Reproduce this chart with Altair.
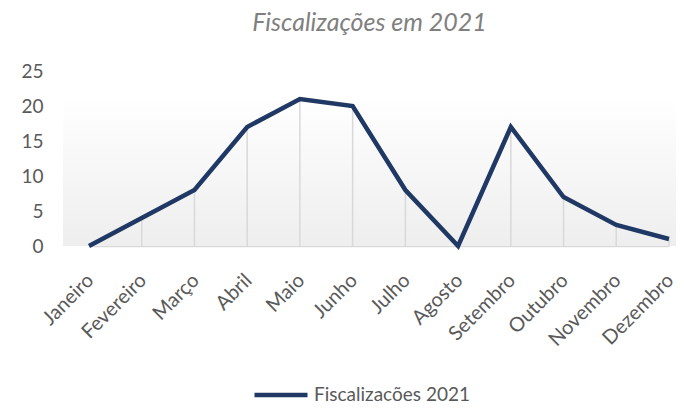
import altair as alt
import pandas as pd

months = ["Janeiro", "Fevereiro", "Março", "Abril", "Maio", "Junho",
          "Julho", "Agosto", "Setembro", "Outubro", "Novembro", "Dezembro"]
values = [0, 4, 8, 17, 21, 20, 8, 0, 17, 7, 3, 1]
series_name = "Fiscalizações 2021"
title_text = "Fiscalizações em 2021"

df = pd.DataFrame({"mes": months, "valor": values, "serie": [series_name] * len(months)})

FONT = "Lato"
W, H = 613, 175

xscale = alt.Scale(type="point", domain=months, range=[26, 606], padding=0)
yscale = alt.Scale(domain=[0, 25])

xenc = alt.X("mes:N", sort=months, scale=xscale, title=None,
             axis=alt.Axis(labelAngle=-45, labelAlign="right", labelBaseline="top",
                           labelFontSize=20, labelColor="#595959", labelFont=FONT,
                           ticks=False, domainColor="#d9d9d9", domainWidth=1.5,
                           labelPadding=24, labelOffset=-6, grid=False))

yaxis = alt.Axis(values=[0, 5, 10, 15, 20, 25], labelFontSize=19,
                 labelColor="#595959", labelFont=FONT, ticks=False,
                 domain=False, grid=False, labelPadding=20, labelOverlap=False)

yenc = alt.Y("valor:Q", scale=yscale, title=None, axis=yaxis)

bg = alt.Chart(pd.DataFrame({"a": [0]})).mark_rect(
    fill=alt.Gradient(gradient="linear", x1=0, y1=0, x2=0, y2=1,
                      stops=[alt.GradientStop(offset=0, color="#ffffff"),
                             alt.GradientStop(offset=1, color="#eeeeee")])
).encode(
    x=alt.value(0), x2=alt.value(W),
    y=alt.datum(21.4, scale=yscale, axis=yaxis, title=None), y2=alt.datum(0)
)

rules = alt.Chart(df).mark_rule(color="#d9d9d9", strokeWidth=1.5).encode(
    x=xenc,
    y=yenc,
    y2=alt.datum(0)
)

line = alt.Chart(df).mark_line(strokeWidth=4.5, strokeJoin="miter").encode(
    x=xenc,
    y=yenc,
    color=alt.Color("serie:N", scale=alt.Scale(range=["#1F3864"]),
                    legend=alt.Legend(orient="none", legendX=189, legendY=295,
                                      direction="horizontal", padding=0,
                                      title=None, symbolType="stroke",
                                      symbolStrokeWidth=4.5, symbolSize=2809,
                                      labelFontSize=19, labelColor="#595959",
                                      labelFont=FONT, labelOffset=4))
)

chart = alt.layer(bg, rules, line).properties(
    width=W, height=H,
    autosize=alt.AutoSizeParams(type="none"),
    padding={"left": 55, "top": 63, "right": 0, "bottom": 155},
    title=alt.Title(title_text, font=FONT, fontSize=25, fontStyle="italic",
                    fontWeight="normal", color="#808080", anchor="middle",
                    offset=26, dx=0),
).configure_view(stroke=None)

chart.save("out.html", embed_options={"renderer": "svg", "actions": False})
